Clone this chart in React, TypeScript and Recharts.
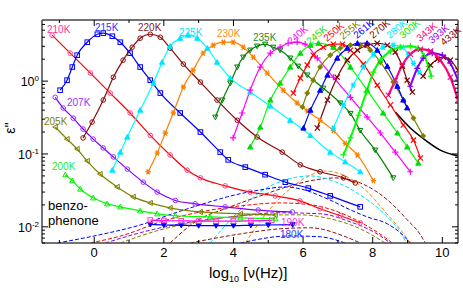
import React from 'react';
import { LineChart, Line, XAxis, YAxis } from 'recharts';

type Pt = [number, number];

// log10(frequency / Hz) vs eps''
const s210K: Pt[] = [[-1.21, 4.27], [-0.69, 2.42], [-0.11, 1.29], [0.46, 0.685], [1.03, 0.365], [1.61, 0.18], [2.18, 0.097], [2.67, 0.06], [3.05, 0.047], [3.76, 0.0365], [4.48, 0.03], [5.2, 0.0266], [5.91, 0.0227], [6.49, 0.0177], [7.07, 0.0142], [7.64, 0.0113]];
const s215K: Pt[] = [[-0.98, 0.75], [-0.78, 1.03], [-0.63, 1.56], [-0.49, 2.27], [-0.2, 3.42], [0.09, 4.4], [0.26, 4.55], [0.52, 4.13], [0.75, 3.42], [1.03, 2.42], [1.32, 1.56], [1.61, 1.03], [1.9, 0.685], [2.47, 0.365], [3.05, 0.2], [3.62, 0.106], [3.85, 0.083], [4.34, 0.066], [4.91, 0.052], [5.49, 0.041], [6.15, 0.034], [6.78, 0.0266], [7.64, 0.0188]];
const s220K: Pt[] = [[-0.32, 0.166], [-0.06, 0.274], [0.26, 0.55], [0.55, 1.13], [0.83, 1.94], [1.09, 2.92], [1.32, 3.88], [1.61, 4.4], [1.9, 4.0], [2.18, 2.83], [2.56, 1.71], [3.05, 0.97], [3.53, 0.55], [4.11, 0.29], [4.68, 0.171], [5.4, 0.106], [5.92, 0.071], [6.49, 0.057], [7.16, 0.047], [7.5, 0.04]];
const s225K: Pt[] = [[0.52, 0.06], [0.75, 0.106], [0.95, 0.171], [1.32, 0.4], [1.7, 0.94], [1.95, 1.82], [2.18, 3.02], [2.47, 3.88], [2.7, 4.27], [2.96, 3.88], [3.25, 2.83], [3.53, 1.82], [3.91, 1.1], [4.48, 0.71], [5.06, 0.455], [5.63, 0.29], [6.21, 0.18], [6.78, 0.106], [7.21, 0.078], [7.64, 0.057]];
const s230K: Pt[] = [[1.55, 0.057], [1.81, 0.103], [2.04, 0.194], [2.27, 0.365], [2.56, 0.83], [2.84, 1.41], [3.13, 2.42], [3.42, 3.11], [3.71, 3.42], [3.99, 3.42], [4.28, 2.92], [4.57, 2.13], [4.97, 1.29], [5.43, 0.75], [5.83, 0.5], [6.12, 0.39], [6.49, 0.29], [6.87, 0.21], [7.21, 0.14], [7.56, 0.097], [8.02, 0.043]];
const s235K: Pt[] = [[3.48, 0.32], [3.68, 0.55], [3.91, 0.94], [4.11, 1.56], [4.28, 2.13], [4.48, 2.66], [4.68, 3.02], [4.91, 3.21], [5.14, 2.92], [5.34, 2.66], [5.63, 2.07], [5.86, 1.6], [6.12, 1.21], [6.58, 0.8], [7.07, 0.5], [7.36, 0.36], [7.64, 0.21], [8.07, 0.113], [8.59, 0.047]];
const s240K: Pt[] = [[3.99, 0.166], [4.25, 0.365], [4.48, 0.75], [4.77, 1.56], [5.06, 2.42], [5.34, 2.92], [5.57, 3.31], [5.83, 3.42], [6.06, 3.21], [6.41, 2.07], [6.87, 1.13], [7.36, 0.6], [7.84, 0.32], [8.22, 0.194], [8.65, 0.106], [9.08, 0.057]];
const s245K: Pt[] = [[4.48, 0.125], [4.77, 0.234], [5.06, 0.55], [5.34, 0.94], [5.63, 1.56], [5.92, 2.42], [6.21, 3.11], [6.44, 3.31], [6.87, 2.92], [7.36, 1.56], [7.84, 0.75], [8.3, 0.365], [8.71, 0.194], [8.99, 0.125], [9.31, 0.075]];
const s250K: Pt[] = [[5.72, 0.685], [5.92, 1.1], [6.12, 1.66], [6.29, 2.27], [6.58, 2.92], [6.87, 3.21], [7.13, 3.21], [7.36, 2.66], [7.73, 1.71], [8.13, 0.88], [8.51, 0.47], [8.88, 0.25], [9.17, 0.155], [9.37, 0.088]];
const s255K: Pt[] = [[5.98, 0.44], [6.12, 0.685], [6.29, 1.03], [6.49, 1.56], [6.78, 2.27], [7.07, 2.83], [7.36, 3.11], [7.64, 3.11], [7.93, 2.66], [8.22, 1.82], [8.59, 0.97], [8.88, 0.55], [9.17, 0.31], [9.45, 0.177]];
const s261K: Pt[] = [[6.01, 0.227], [6.21, 0.4], [6.49, 0.75], [6.7, 1.21], [6.98, 2.07], [7.27, 2.83], [7.56, 3.31], [7.84, 3.31], [8.13, 2.66], [8.42, 1.6], [8.71, 0.85], [8.88, 0.55], [8.99, 0.43]];
const s270K: Pt[] = [[6.41, 0.227], [6.7, 0.55], [6.98, 1.13], [7.27, 1.94], [7.56, 2.66], [7.84, 3.11], [8.13, 3.31], [8.42, 3.11], [8.65, 2.5], [8.85, 1.6], [8.99, 1.03], [9.14, 0.71]];
const s280K: Pt[] = [[6.87, 0.227], [7.16, 0.47], [7.44, 0.88], [7.73, 1.56], [8.02, 2.34], [8.3, 2.92], [8.59, 3.11], [8.85, 2.92], [9.02, 2.34], [9.17, 1.76], [9.34, 1.33]];
const s300K: Pt[] = [[7.16, 0.097], [7.36, 0.166], [7.59, 0.34], [7.82, 0.71], [8.02, 1.33], [8.22, 1.94], [8.51, 2.58], [8.79, 2.92], [9.08, 3.02], [9.31, 2.83], [9.48, 2.2], [9.6, 1.6], [9.68, 1.17]];
const s343K: Pt[] = [[8.45, 0.64], [8.65, 1.03], [8.85, 1.66], [9.08, 2.34], [9.37, 2.74], [9.66, 2.58], [9.94, 1.94], [10.23, 1.13], [10.45, 0.55]];
const s393K: Pt[] = [[9.08, 0.85], [9.28, 1.5], [9.45, 2.07], [9.71, 2.42], [10.0, 2.27], [10.23, 1.76], [10.45, 1.03]];
const s433K: Pt[] = [[9.45, 1.17], [9.66, 1.66], [9.86, 2.0], [10.03, 2.13], [10.23, 1.94], [10.45, 1.41]];
const sBlack: Pt[] = [[8.65, 0.376], [9.08, 0.227], [9.51, 0.155], [9.94, 0.113], [10.45, 0.094]];
const s207K: Pt[] = [[-1.12, 0.6], [-0.89, 0.427], [-0.6, 0.31], [-0.32, 0.22], [-0.03, 0.16], [0.26, 0.121], [0.55, 0.091], [0.95, 0.062], [1.41, 0.041], [1.81, 0.03], [2.33, 0.023], [2.9, 0.0207], [3.76, 0.0188], [4.71, 0.017], [5.69, 0.016]];
const s205K: Pt[] = [[-1.12, 0.234], [-0.78, 0.16], [-0.49, 0.117], [-0.2, 0.08], [0.17, 0.053], [0.66, 0.0353], [1.12, 0.0258], [1.61, 0.0213], [2.18, 0.0182], [3.05, 0.016], [4.2, 0.0151], [5.2, 0.0146]];
const s200K: Pt[] = [[-0.83, 0.052], [-0.63, 0.043], [-0.4, 0.033], [-0.03, 0.025], [0.37, 0.0207], [0.75, 0.0188], [1.32, 0.0166], [1.81, 0.0151], [2.33, 0.0142], [3.33, 0.0137], [4.2, 0.0133], [5.2, 0.0129]];
const s190K: Pt[] = [[1.61, 0.0124], [2.0, 0.0122], [2.5, 0.0121], [3.0, 0.012], [3.5, 0.012], [4.0, 0.012], [4.5, 0.0121], [5.1, 0.0123]];
const s180K: Pt[] = [[1.61, 0.0108], [2.0, 0.0106], [2.5, 0.0105], [3.0, 0.0104], [3.5, 0.0104], [4.0, 0.0104], [4.5, 0.0105], [5.0, 0.0106], [5.7, 0.0107]];

// dashed fit components
const dMaroon: Pt[] = [[2.18, 0.006], [2.9, 0.0117], [3.91, 0.0188], [4.77, 0.0266], [5.63, 0.0365], [6.35, 0.0441], [6.93, 0.0469], [7.64, 0.0401], [8.42, 0.0235], [8.99, 0.0125], [9.37, 0.0078], [9.51, 0.006]];
const dOrange: Pt[] = [[4.34, 0.006], [4.91, 0.0146], [5.49, 0.0292], [6.06, 0.0469], [6.64, 0.0585], [7.21, 0.05], [7.79, 0.0321], [8.36, 0.016], [8.85, 0.0085], [9.08, 0.006]];
const dCyan: Pt[] = [[3.33, 0.006], [4.05, 0.0146], [4.77, 0.0302], [5.49, 0.0441], [6.21, 0.05], [6.93, 0.0414], [7.64, 0.0274], [8.36, 0.0146], [8.79, 0.0085], [8.97, 0.006]];
const dBlue: Pt[] = [[-1.06, 0.006], [0.17, 0.0078], [1.32, 0.0106], [2.33, 0.0156], [3.05, 0.0201], [3.82, 0.0258], [4.77, 0.0321], [5.49, 0.0353], [5.92, 0.0332], [6.7, 0.0242], [7.36, 0.0171], [7.84, 0.0137], [8.42, 0.011], [8.79, 0.0083], [9.08, 0.006]];
const dRed: Pt[] = [[-0.11, 0.006], [0.89, 0.0078], [1.9, 0.0117], [3.05, 0.016], [4.2, 0.0194], [5.34, 0.0213], [6.21, 0.0201], [7.07, 0.0156], [7.79, 0.0106], [8.36, 0.0071], [8.56, 0.006]];
const dPurple: Pt[] = [[0.32, 0.006], [1.32, 0.0083], [2.47, 0.011], [3.91, 0.0137], [5.34, 0.0156], [6.49, 0.0151], [7.36, 0.0117], [8.07, 0.0083], [8.51, 0.006]];
const dOlive: Pt[] = [[0.75, 0.006], [1.9, 0.0091], [3.33, 0.0125], [4.77, 0.0146], [5.92, 0.0146], [6.78, 0.0129], [7.64, 0.0094], [8.36, 0.006]];
const dMaroonLow: Pt[] = [[2.76, 0.006], [4.2, 0.008], [5.34, 0.0094], [6.21, 0.0097], [7.16, 0.0075], [7.64, 0.006]];
const dBlueLow: Pt[] = [[4.2, 0.006], [5.63, 0.0075], [6.49, 0.0073], [7.21, 0.006]];

const xTicks = [-1, 0, 1, 2, 3, 4, 5, 6, 7, 8, 9, 10];
const yTicks = [0.006, 0.007, 0.008, 0.009, 0.01, 0.02, 0.03, 0.04, 0.05, 0.06, 0.07, 0.08, 0.09, 0.1, 0.2, 0.3, 0.4, 0.5, 0.6, 0.7, 0.8, 0.9, 1, 2, 3, 4, 5, 6];

const FONT = '"Liberation Sans", Arial, Helvetica, sans-serif';

type Kind = 'circle' | 'square' | 'triUp' | 'triUpFill' | 'triDown' | 'triDownFill' | 'triLeft' | 'diamondFill' | 'cross' | 'plus' | 'star' | 'none';

interface Series {
  id: string;
  pts: Pt[];
  line: string;
  mark: string;
  kind: Kind;
  w?: number;
  dash?: string;
}

const series: Series[] = [
  { id: 'dMaroon', pts: dMaroon, line: '#8b1010', mark: '', kind: 'none', dash: '4 2' },
  { id: 'dOrange', pts: dOrange, line: '#ff8000', mark: '', kind: 'none', dash: '4 2' },
  { id: 'dCyan', pts: dCyan, line: '#00e0ff', mark: '', kind: 'none', dash: '4 2' },
  { id: 'dBlue', pts: dBlue, line: '#0000ff', mark: '', kind: 'none', dash: '4 2' },
  { id: 'dRed', pts: dRed, line: '#ff0000', mark: '', kind: 'none', dash: '4 2' },
  { id: 'dPurple', pts: dPurple, line: '#8000ff', mark: '', kind: 'none', dash: '4 2' },
  { id: 'dOlive', pts: dOlive, line: '#808000', mark: '', kind: 'none', dash: '4 2' },
  { id: 'dMaroonLow', pts: dMaroonLow, line: '#8b1010', mark: '', kind: 'none', dash: '4 2' },
  { id: 'dBlueLow', pts: dBlueLow, line: '#0000ff', mark: '', kind: 'none', dash: '4 2' },
  { id: '180K', pts: s180K, line: '#0000ff', mark: '#0000ff', kind: 'triDownFill' },
  { id: '190K', pts: s190K, line: '#ff00ff', mark: '#ff40c0', kind: 'square' },
  { id: '200K', pts: s200K, line: '#00ff00', mark: '#00ee00', kind: 'triUp' },
  { id: '205K', pts: s205K, line: '#808000', mark: '#808000', kind: 'triLeft' },
  { id: '207K', pts: s207K, line: '#8000ff', mark: '#9933ff', kind: 'circle' },
  { id: '210K', pts: s210K, line: '#ff0000', mark: '#ff4090', kind: 'circle' },
  { id: '215K', pts: s215K, line: '#0000ff', mark: '#0000ff', kind: 'square' },
  { id: '220K', pts: s220K, line: '#8b0a0a', mark: '#8b0a0a', kind: 'circle' },
  { id: '225K', pts: s225K, line: '#00ffff', mark: '#00e5ff', kind: 'triUpFill' },
  { id: '230K', pts: s230K, line: '#ff8000', mark: '#ff8000', kind: 'star' },
  { id: '235K', pts: s235K, line: '#008000', mark: '#008000', kind: 'triDown' },
  { id: '240K', pts: s240K, line: '#ff00ff', mark: '#ff00ff', kind: 'plus' },
  { id: '245K', pts: s245K, line: '#00ff00', mark: '#00dd00', kind: 'triUpFill' },
  { id: 'black', pts: sBlack, line: '#000000', mark: '', kind: 'none', w: 1.6 },
  { id: '250K', pts: s250K, line: '#ff0000', mark: '#ff0000', kind: 'cross' },
  { id: '255K', pts: s255K, line: '#808000', mark: '#808000', kind: 'diamondFill' },
  { id: '261K', pts: s261K, line: '#0000ff', mark: '#0000ff', kind: 'triUpFill' },
  { id: '270K', pts: s270K, line: '#800000', mark: '#800000', kind: 'cross' },
  { id: '280K', pts: s280K, line: '#00ffff', mark: '#00e5ff', kind: 'star' },
  { id: '300K', pts: s300K, line: '#00ff00', mark: '#00ff00', kind: 'plus', w: 2 },
  { id: '433K', pts: s433K, line: '#800000', mark: '#800000', kind: 'cross' },
  { id: '393K', pts: s393K, line: '#8000ff', mark: '#8000ff', kind: 'plus', w: 2 },
  { id: '343K', pts: s343K, line: '#ff0080', mark: '#ff0080', kind: 'cross', w: 2.2 },
];

const labels = [
  { t: '210K', x: 47, y: 33, c: '#ff3399', r: 0 },
  { t: '215K', x: 95, y: 31, c: '#3333ff', r: 0 },
  { t: '220K', x: 138, y: 31, c: '#8b1a1a', r: 0 },
  { t: '225K', x: 179, y: 36, c: '#00e5ff', r: 0 },
  { t: '230K', x: 217, y: 37, c: '#ff8c1a', r: 0 },
  { t: '235K', x: 253, y: 41, c: '#2e8b2e', r: 0 },
  { t: '240K', x: 291, y: 45, c: '#ff00ff', r: -40 },
  { t: '245K', x: 310, y: 45, c: '#22dd22', r: -40 },
  { t: '250K', x: 327, y: 42, c: '#ff0000', r: -40 },
  { t: '255K', x: 343, y: 40, c: '#808000', r: -40 },
  { t: '261K', x: 357, y: 39, c: '#0000ff', r: -40 },
  { t: '270K', x: 373, y: 39, c: '#800000', r: -40 },
  { t: '280K', x: 390, y: 39, c: '#00e5ff', r: -40 },
  { t: '300K', x: 403, y: 39, c: '#00ee00', r: -40 },
  { t: '343K', x: 420, y: 42, c: '#ff0080', r: -40 },
  { t: '393K', x: 432, y: 44, c: '#9900ff', r: -40 },
  { t: '433K', x: 444, y: 46, c: '#800000', r: -40 },
  { t: '207K', x: 67, y: 106, c: '#9933ff', r: 0 },
  { t: '205K', x: 44, y: 125, c: '#808000', r: 0 },
  { t: '200K', x: 52, y: 170, c: '#22ee22', r: 0 },
  { t: '190K', x: 281, y: 226, c: '#ff33cc', r: 0 },
  { t: '180K', x: 280, y: 238, c: '#3333ff', r: 0 },
];

function marker(kind: Kind, color: string, cx: number, cy: number) {
  const s = 2.6;
  switch (kind) {
    case 'circle':
      return <circle cx={cx} cy={cy} r={2.3} fill="none" stroke={color} strokeWidth={1} />;
    case 'square':
      return <rect x={cx - 2.3} y={cy - 2.3} width={4.6} height={4.6} fill="none" stroke={color} strokeWidth={1} />;
    case 'triUp':
    case 'triUpFill':
      return <polygon points={`${cx},${cy - s} ${cx - s},${cy + s * 0.8} ${cx + s},${cy + s * 0.8}`} fill={kind === 'triUpFill' ? color : 'none'} stroke={color} strokeWidth={1} />;
    case 'triDown':
    case 'triDownFill':
      return <polygon points={`${cx},${cy + s} ${cx - s},${cy - s * 0.8} ${cx + s},${cy - s * 0.8}`} fill={kind === 'triDownFill' ? color : 'none'} stroke={color} strokeWidth={1} />;
    case 'triLeft':
      return <polygon points={`${cx - s},${cy} ${cx + s * 0.8},${cy - s} ${cx + s * 0.8},${cy + s}`} fill="none" stroke={color} strokeWidth={1} />;
    case 'diamondFill':
      return <polygon points={`${cx},${cy - s} ${cx + s},${cy} ${cx},${cy + s} ${cx - s},${cy}`} fill={color} stroke={color} strokeWidth={0.8} />;
    case 'cross':
      return <path d={`M${cx - s},${cy - s}L${cx + s},${cy + s}M${cx - s},${cy + s}L${cx + s},${cy - s}`} stroke={color} strokeWidth={1.2} />;
    case 'plus':
      return <path d={`M${cx - s - 0.5},${cy}L${cx + s + 0.5},${cy}M${cx},${cy - s - 0.5}L${cx},${cy + s + 0.5}`} stroke={color} strokeWidth={1.2} />;
    case 'star':
      return <path d={`M${cx - s},${cy}L${cx + s},${cy}M${cx - s * 0.6},${cy - s}L${cx + s * 0.6},${cy + s}M${cx - s * 0.6},${cy + s}L${cx + s * 0.6},${cy - s}`} stroke={color} strokeWidth={1.3} />;
    default:
      return null;
  }
}

const dotFor = (kind: Kind, color: string) => (p: any) => {
  const { cx, cy, index } = p;
  if (kind === 'none' || cx == null || cy == null) return <g key={`d${index}`} />;
  return <g key={`d${index}`}>{marker(kind, color, cx, cy)}</g>;
};

const isMajorY = (v: number) => {
  const lg = Math.log10(v);
  return Math.abs(lg - Math.round(lg)) < 1e-6;
};

const YTickLeft = (p: any) => {
  const { x, y, payload } = p;
  const v = payload.value;
  const major = isMajorY(v);
  return (
    <g>
      <line x1={x} y1={y} x2={x + (major ? 6 : 3)} y2={y} stroke="#000" strokeWidth={1} />
      {major && (
        <text x={x - 3} y={y + 5} textAnchor="end" fontSize={12.5} fontFamily={FONT} fill="#000">
          10<tspan dy={-5} fontSize={8}>{Math.round(Math.log10(v))}</tspan>
        </text>
      )}
    </g>
  );
};

const YTickRight = (p: any) => {
  const { x, y, payload } = p;
  const major = isMajorY(payload.value);
  return <line x1={x} y1={y} x2={x - (major ? 6 : 3)} y2={y} stroke="#000" strokeWidth={1} />;
};

const XTickBottom = (p: any) => {
  const { x, y, payload } = p;
  const v = payload.value;
  const even = v % 2 === 0;
  return (
    <g>
      <line x1={x} y1={y} x2={x} y2={y - (even ? 6 : 3)} stroke="#000" strokeWidth={1} />
      {even && (
        <text x={x} y={y + 14} textAnchor="middle" fontSize={13} fontFamily={FONT} fill="#000">
          {v}
        </text>
      )}
    </g>
  );
};

const XTickTop = (p: any) => {
  const { x, y, payload } = p;
  const even = payload.value % 2 === 0;
  return <line x1={x} y1={y} x2={x} y2={y + (even ? 6 : 3)} stroke="#000" strokeWidth={1} />;
};

const frame = { stroke: '#444', strokeWidth: 1.5 };

export default function App() {
  return (
    <div style={{ position: 'absolute', left: 0, top: 0, width: 463, height: 292, background: '#fff' }}>
      <LineChart width={463} height={292} margin={{ top: 19, right: 4, bottom: 0, left: 0 }}>
        <XAxis xAxisId="b" type="number" dataKey="x" domain={[-1.5, 10.45]} allowDataOverflow ticks={xTicks} interval={0}
          tickSize={0} tickMargin={0} tick={(p: any) => <XTickBottom {...p} />} height={49} axisLine={frame} />
        <XAxis xAxisId="t" orientation="top" type="number" dataKey="x" domain={[-1.5, 10.45]} allowDataOverflow ticks={xTicks} interval={0}
          tickSize={0} tickMargin={0} tick={(p: any) => <XTickTop {...p} />} height={1} axisLine={frame} />
        <YAxis yAxisId="l" scale="log" type="number" domain={[0.006, 6.9]} allowDataOverflow ticks={yTicks} interval={0}
          tickSize={0} tickMargin={0} tick={(p: any) => <YTickLeft {...p} />} width={42} axisLine={frame} />
        <YAxis yAxisId="r" orientation="right" scale="log" type="number" domain={[0.006, 6.9]} allowDataOverflow ticks={yTicks} interval={0}
          tickSize={0} tickMargin={0} tick={(p: any) => <YTickRight {...p} />} width={1} axisLine={frame} />
        {series.map((s) => (
          <Line
            key={s.id}
            xAxisId="b"
            yAxisId="l"
            data={s.pts.map(([x, y]) => ({ x, y }))}
            dataKey="y"
            type="monotone"
            stroke={s.line}
            strokeWidth={s.w ?? (s.dash ? 1 : 1.2)}
            strokeDasharray={s.dash}
            dot={dotFor(s.kind, s.mark)}
            activeDot={false}
            isAnimationActive={false}
          />
        ))}
      </LineChart>
      <svg width={463} height={292} style={{ position: 'absolute', left: 0, top: 0, pointerEvents: 'none' }}>
        {labels.map((l) => (
          <text key={l.t} transform={`translate(${l.x},${l.y}) rotate(${l.r})`} fontSize={10} fontFamily={FONT} fill={l.c}>
            {l.t}
          </text>
        ))}
        <text x={48} y={210} fontSize={13} fontFamily={FONT} fill="#000">benzo-</text>
        <text x={48} y={225} fontSize={13} fontFamily={FONT} fill="#000">phenone</text>
        <text x={209} y={278} fontSize={15} fontFamily={FONT} fill="#000">
          log<tspan dy={4} fontSize={9}>10</tspan><tspan dy={-4}> [ν(Hz)]</tspan>
        </text>
        <text transform="translate(15,128) rotate(-90)" textAnchor="middle" fontSize={14} fontFamily={FONT} fill="#000">
          ε''
        </text>
      </svg>
    </div>
  );
}
